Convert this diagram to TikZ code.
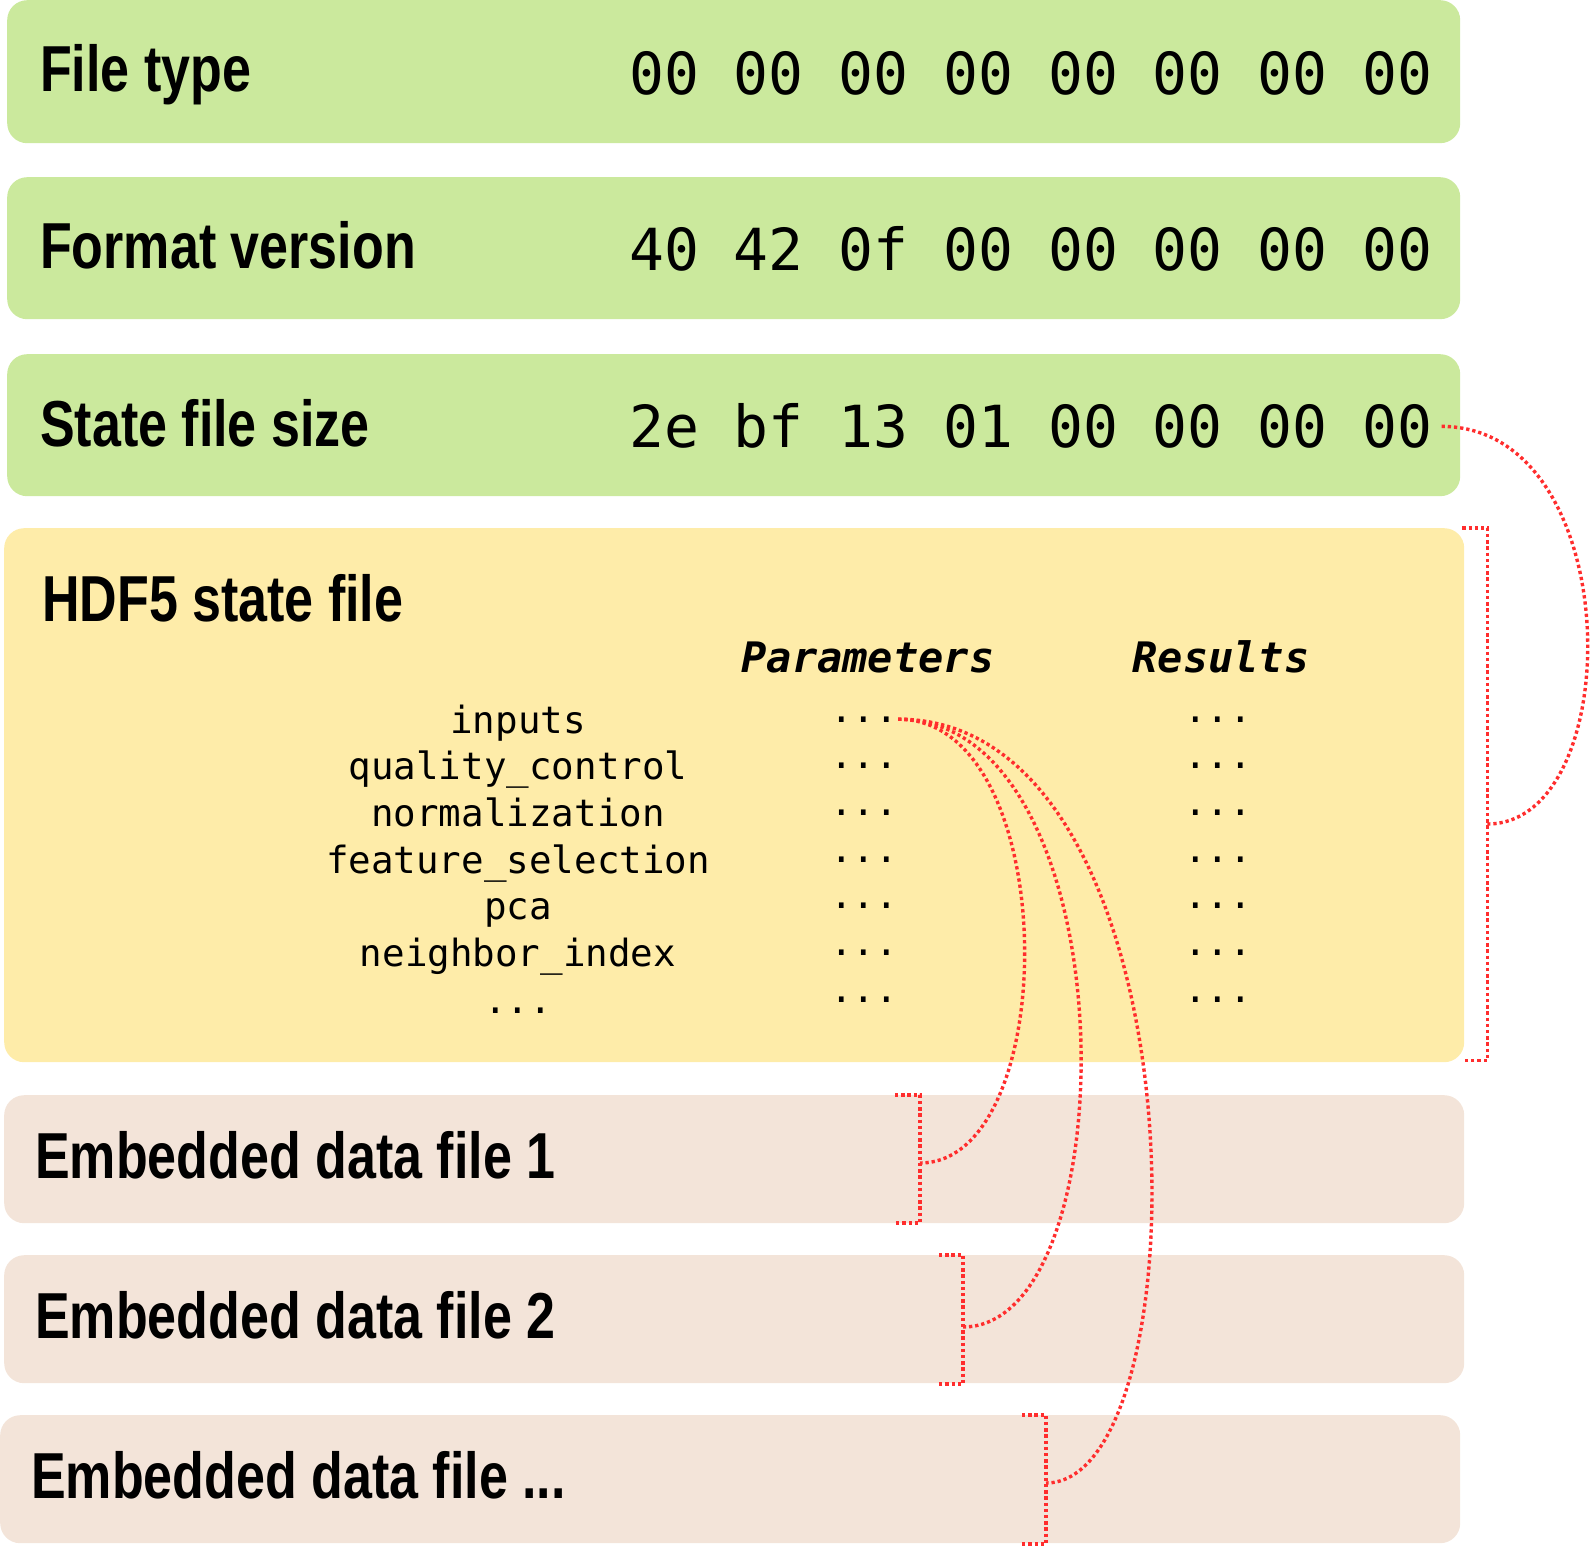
\documentclass[tikz,border=0pt]{standalone}
\usepackage{fontspec}
\usetikzlibrary{calc}
\newfontfamily\titlefont[FakeStretch=0.8]{Liberation Sans}
\newfontfamily\codefont{DejaVu Sans Mono}
\definecolor{boxgreen}{RGB}{203,233,157}
\definecolor{boxyellow}{RGB}{254,236,169}
\definecolor{boxpeach}{RGB}{243,228,217}
\definecolor{linkred}{RGB}{255,45,45}
\begin{document}
\begin{tikzpicture}[x=1pt,y=-1pt,
  panel/.style={rounded corners=20pt, anchor=north west, inner sep=0pt, draw=none, minimum width=#1},
  panel/.default=1460pt,
  greenpanel/.style={panel=1453pt, fill=boxgreen, minimum height=142pt},
  yellowpanel/.style={panel, fill=boxyellow, minimum height=534pt},
  peachpanel/.style={panel, fill=boxpeach, minimum height=128pt},
  title/.style={font=\titlefont\bfseries\fontsize{65}{70}\selectfont, anchor=base west, inner sep=0pt},
  hex/.style={font=\codefont\fontsize{58}{62}\selectfont, anchor=base west, inner sep=0pt},
  field/.style={font=\codefont\fontsize{37.5}{40}\selectfont, anchor=base, inner sep=0pt},
  head/.style={font=\codefont\bfseries\itshape\fontsize{42}{45}\selectfont, anchor=base, inner sep=0pt},
  link/.style={draw=linkred, line width=3.4pt, dash pattern=on 3.3pt off 2.9pt},
]
\useasboundingbox (0,0) rectangle (1590,1546);

% panels
\node[greenpanel, minimum height=143pt] (ft) at (7,0) {};
\node[greenpanel] (fv) at (7,177) {};
\node[greenpanel] (fs) at (7,354) {};
\node[yellowpanel] (hdf) at (4,528) {};
\node[peachpanel] (e1) at (4,1095) {};
\node[peachpanel] (e2) at (4,1255) {};
\node[peachpanel] (e3) at (0,1415) {};

% titles
\node[title] (tft) at (40,92) {File type};
\node[title] (tfv) at (40,269) {Format version};
\node[title] (tfs) at (40,446) {State file size};
\node[title] (thdf) at (42,621) {HDF5 state file};
\node[title] (te1) at (35,1178) {Embedded data file 1};
\node[title] (te2) at (35,1338) {Embedded data file 2};
\node[title] (te3) at (31,1498) {Embedded data file ...};

% hex bytes
\node[hex] (h1) at (629,95) {00 00 00 00 00 00 00 00};
\node[hex] (h2) at (629,271) {40 42 0f 00 00 00 00 00};
\node[hex] (h3) at (629,447) {2e bf 13 01 00 00 00 00};

% table headings
\node[head] (hp) at (868,672) {Parameters};
\node[head] (hr) at (1221,672) {Results};

% table rows
\node[field] (n0) at (518,733) {inputs};
\node[field] (n1) at (518,779.67) {quality\_control};
\node[field] (n2) at (518,826.33) {normalization};
\node[field] (n3) at (518,873) {feature\_selection};
\node[field] (n4) at (518,919.67) {pca};
\node[field] (n5) at (518,966.33) {neighbor\_index};
\node[field] (n6) at (518,1013) {...};
\foreach \i in {0,1,2,3,4,5,6}{
  \node[field] (p\i) at (864,722+46.67*\i) {...};
  \node[field] (r\i) at (1218,722+46.67*\i) {...};
}

% brackets
\draw[link] ($(hdf.north east)+(-2,0)$) -| ($(hdf.south east)+(23,-2)$) -- ($(hdf.south east)+(-2,-2)$);
\coordinate (hdfin) at ($(hdf.north east)+(23,296)$);
\coordinate (b1top) at (895,1095);
\coordinate (b1bot) at (895,1223);
\coordinate (e1in) at (920,1163);
\draw[link] (b1top) -- (920,1095) -- (920,1223) -- (b1bot);
\coordinate (b2top) at (939,1255);
\coordinate (b2bot) at (939,1384);
\coordinate (e2in) at (963,1327);
\draw[link] (b2top) -- (963,1255) -- (963,1384) -- (b2bot);
\coordinate (b3top) at (1022,1415);
\coordinate (b3bot) at (1022,1544);
\coordinate (e3in) at (1046,1483);
\draw[link] (b3top) -- (1046,1415) -- (1046,1544) -- (b3bot);

% connectors
\coordinate (h3out) at ($(h3.east)+(9,1)$);
\draw[link] (h3out) .. controls (1628,427) and (1628,824) .. (hdfin);
\draw[link] (p0.east) .. controls (1063,719) and (1063,1163) .. (e1in);
\draw[link] (p0.east) .. controls (1130,719) and (1130,1327) .. (e2in);
\draw[link] (p0.east) .. controls (1206,719) and (1206,1483) .. (e3in);
\end{tikzpicture}
\end{document}
